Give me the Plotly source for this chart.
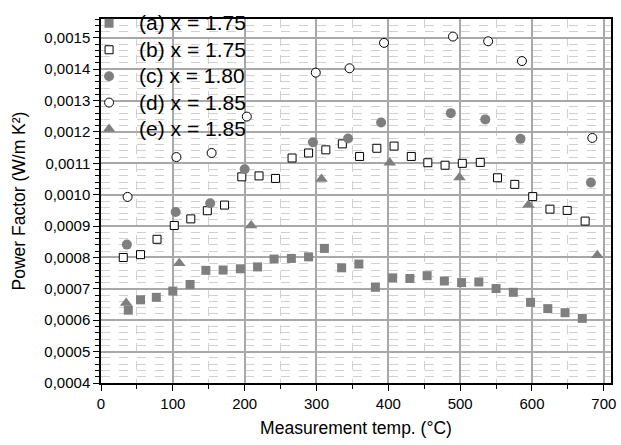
import plotly.graph_objects as go

# ---- data ----
a_x = [38, 55, 77, 100, 124, 146, 170, 194, 218, 241, 265, 289, 311, 335, 359, 382,
       406, 430, 454, 478, 502, 526, 550, 574, 598, 622, 646, 670]
a_y = [0.000632, 0.000665, 0.000673, 0.000693, 0.000714, 0.000759, 0.000760, 0.000764,
       0.000770, 0.000795, 0.000797, 0.000802, 0.000829, 0.000767, 0.000779, 0.000705,
       0.000735, 0.000733, 0.000742, 0.000725, 0.000720, 0.000722, 0.000701, 0.000689,
       0.000657, 0.000637, 0.000624, 0.000606]

b_x = [31, 55, 78, 102, 125, 148, 172, 196, 220, 243, 266, 289, 313, 336, 360,
       384, 408, 432, 455, 479, 503, 528, 552, 576, 601, 625, 649, 674]
b_y = [0.000800, 0.000809, 0.000858, 0.000902, 0.000923, 0.000949, 0.000967, 0.001057,
       0.001060, 0.001052, 0.001117, 0.001133, 0.001143, 0.001162, 0.001122,
       0.001148, 0.001155, 0.001122, 0.001102, 0.001094, 0.001100, 0.001103, 0.001054,
       0.001033, 0.000994, 0.000954, 0.000950, 0.000916]

c_x = [36, 104, 152, 200, 295, 344, 390, 487, 535, 584, 682]
c_y = [0.000841, 0.000945, 0.000973, 0.001081, 0.001167, 0.001179, 0.001230, 0.001260,
       0.001240, 0.001178, 0.001039]

d_x = [37, 105, 154, 203, 299, 346, 394, 490, 539, 586, 684]
d_y = [0.000993, 0.001120, 0.001133, 0.001249, 0.001389, 0.001403, 0.001484, 0.001504,
       0.001489, 0.001426, 0.001181]

e_x = [35, 109, 209, 307, 402, 499, 595, 691]
e_y = [0.000655, 0.000782, 0.000902, 0.001050, 0.001102, 0.001055, 0.000967, 0.000807]

labels = ["(a) x = 1.75", "(b) x = 1.75", "(c) x = 1.80", "(d) x = 1.85", "(e) x = 1.85"]

GRAY = "#7f7f7f"
FONT = "Liberation Sans, Arial"

fig = go.Figure()
series = [
    (a_x, a_y, labels[0], dict(symbol="square", size=9, color=GRAY, line=dict(width=0))),
    (b_x, b_y, labels[1], dict(symbol="square", size=8, color="white", line=dict(color="black", width=1))),
    (c_x, c_y, labels[2], dict(symbol="circle", size=10, color=GRAY, line=dict(width=0))),
    (d_x, d_y, labels[3], dict(symbol="circle", size=9, color="white", line=dict(color="black", width=1))),
    (e_x, e_y, labels[4], dict(symbol="triangle-up", size=11, color=GRAY, line=dict(width=0))),
]
for xs, ys, name, mk in series:
    fig.add_trace(go.Scatter(
        x=xs, y=ys, mode="markers",
        name="<span style='font-size:21px'>" + name + "</span>",
        marker=mk))

axis_common = dict(
    showline=True, linecolor="black", linewidth=1.5, mirror=True,
    ticks="outside", ticklen=6, tickwidth=1.2, tickcolor="black",
    showgrid=True, gridcolor="#a8a8a8", gridwidth=1.5,
    zeroline=False,
    tickfont=dict(family=FONT, size=15, color="black"),
)

fig.update_xaxes(
    range=[0, 710], dtick=100, tick0=0,
    minor=dict(dtick=50, ticks="outside", ticklen=4, tickcolor="black",
               showgrid=True, gridcolor="#d0d0d0", griddash="dash", gridwidth=1),
    title=dict(text="Measurement temp. (°C)", font=dict(family=FONT, size=17.5, color="black"),
               standoff=11),
    **axis_common,
)
fig.update_yaxes(
    range=[0.0004, 0.00156], dtick=0.0001, tick0=0.0004, tickformat=".4f",
    minor=dict(dtick=0.00002, ticks="outside", ticklen=4, tickcolor="black",
               showgrid=True, gridcolor="#d0d0d0", griddash="dash", gridwidth=1),
    title=dict(text="Power Factor (W/m K²)", font=dict(family=FONT, size=17.5, color="black"),
               standoff=14),
    **axis_common,
)

fig.update_layout(
    width=621, height=445,
    margin=dict(l=101, r=5, t=8, b=62),
    plot_bgcolor="white", paper_bgcolor="white",
    separators=", ",
    font=dict(family=FONT, color="black"),
    legend=dict(x=-0.043, y=1.038, xanchor="left", yanchor="top",
                bgcolor="rgba(0,0,0,0)", borderwidth=0,
                font=dict(family=FONT, size=18, color="black"),
                tracegroupgap=0, itemwidth=50),
)

fig.write_html("out.html")
